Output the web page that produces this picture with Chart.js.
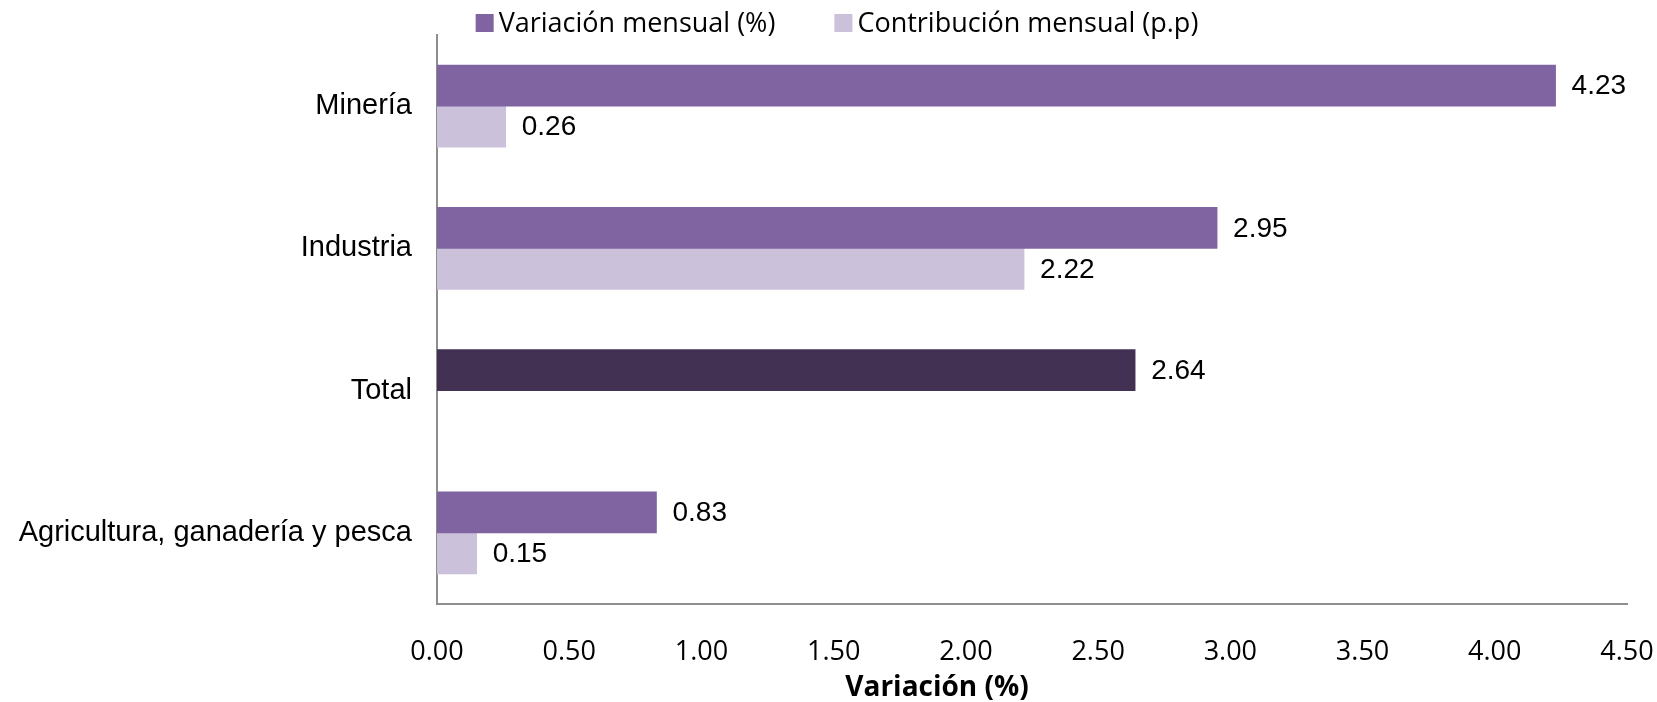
<!DOCTYPE html>
<html lang="es">
<head>
<meta charset="utf-8">
<title>Variación mensual por sector</title>
<script src="https://cdn.jsdelivr.net/npm/chart.js@4.4.1/dist/chart.umd.min.js"></script>
<style>
  html, body { margin: 0; padding: 0; background: #ffffff; }
  #wrap { width: 1657px; height: 702px; }
</style>
</head>
<body>
<div id="wrap"><canvas id="chart" width="1657" height="702"></canvas></div>
<script>
// Sectors, top to bottom
const categories = ['Minería', 'Industria', 'Total', 'Agricultura, ganadería y pesca'];
// Monthly variation (%) and monthly contribution (percentage points)
const variacionMensual = [4.23, 2.95, 2.64, 0.83];
const contribucionMensual = [0.26, 2.22, null, 0.15];
const seriesNames = ['Variación mensual (%)', 'Contribución mensual (p.p)'];
const axisTitle = 'Variación (%)';
const xMin = 0, xMax = 4.5, xStep = 0.5;

const PURPLE = '#8064A2';
const LAVENDER = '#CCC1DA';
const DARK = '#433153';
const AXIS_GREY = '#8E8E8E';

// Total gets the dark fill, the sectors the regular purple
const variacionColors = categories.map(c => c === 'Total' ? DARK : PURPLE);

// Value labels to the right of each bar
const valueLabels = {
  id: 'valueLabels',
  afterDatasetsDraw(chart) {
    const ctx = chart.ctx;
    ctx.save();
    ctx.font = '28px "Liberation Sans", Arial, sans-serif';
    ctx.fillStyle = '#000000';
    ctx.textAlign = 'left';
    ctx.textBaseline = 'middle';
    chart.data.datasets.forEach((ds, di) => {
      const meta = chart.getDatasetMeta(di);
      meta.data.forEach((bar, i) => {
        const v = ds.data[i];
        if (v === null || v === undefined) return;
        ctx.fillText(v.toFixed(2), bar.x + 16, bar.y + 1);
      });
    });
    ctx.restore();
  }
};

// Legend row with square swatches and the bold x-axis title
const legendAndTitle = {
  id: 'legendAndTitle',
  afterDraw(chart) {
    const ctx = chart.ctx;
    ctx.save();
    ctx.font = '27px "Open Sans", sans-serif';
    ctx.textBaseline = 'middle';
    ctx.textAlign = 'left';
    const swatch = 18;
    const gap = 5;
    const itemGap = 59;
    const widths = chart.data.datasets.map(ds => swatch + gap + ctx.measureText(ds.label).width);
    const total = widths.reduce((a, b) => a + b, 0) + itemGap * (widths.length - 1);
    let x = 837 - total / 2;
    const cy = 23;
    chart.data.datasets.forEach((ds, i) => {
      ctx.fillStyle = ds.legendColor;
      ctx.fillRect(x, cy - swatch / 2, swatch, swatch);
      ctx.fillStyle = '#000000';
      ctx.fillText(ds.label, x + swatch + gap, cy + 1);
      x += widths[i] + itemGap;
    });

    ctx.font = 'bold 28px "Open Sans", sans-serif';
    ctx.textAlign = 'center';
    ctx.fillText(axisTitle, 937, 688);
    ctx.restore();
  }
};

new Chart(document.getElementById('chart'), {
  type: 'bar',
  data: {
    labels: categories,
    datasets: [
      {
        label: seriesNames[0],
        data: variacionMensual,
        backgroundColor: variacionColors,
        legendColor: PURPLE,
        barThickness: 41
      },
      {
        label: seriesNames[1],
        data: contribucionMensual,
        backgroundColor: LAVENDER,
        legendColor: LAVENDER,
        barThickness: 41
      }
    ]
  },
  options: {
    indexAxis: 'y',
    responsive: false,
    animation: false,
    layout: { padding: { top: 35, right: 30, bottom: 0, left: 0 } },
    plugins: {
      legend: { display: false },
      tooltip: { enabled: false }
    },
    scales: {
      x: {
        min: xMin,
        max: xMax,
        grid: { display: false, drawTicks: false, tickLength: 0 },
        border: { display: true, color: AXIS_GREY, width: 2 },
        ticks: {
          stepSize: xStep,
          padding: 32,
          color: '#000000',
          font: { family: '"Open Sans", sans-serif', size: 27 },
          callback: v => Number(v).toFixed(2)
        },
        afterFit(scale) {
          scale.height = 98;
          scale.paddingLeft = 0;
          scale.paddingRight = 0;
        }
      },
      y: {
        grid: { display: false, drawTicks: false, tickLength: 0 },
        border: { display: true, color: AXIS_GREY, width: 2 },
        ticks: {
          padding: 25,
          color: '#000000',
          font: { family: '"Liberation Sans", Arial, sans-serif', size: 29 }
        },
        afterFit(scale) {
          scale.width = 437;
          scale.paddingTop = 0;
          scale.paddingBottom = 0;
        }
      }
    }
  },
  plugins: [valueLabels, legendAndTitle]
});
</script>
</body>
</html>
